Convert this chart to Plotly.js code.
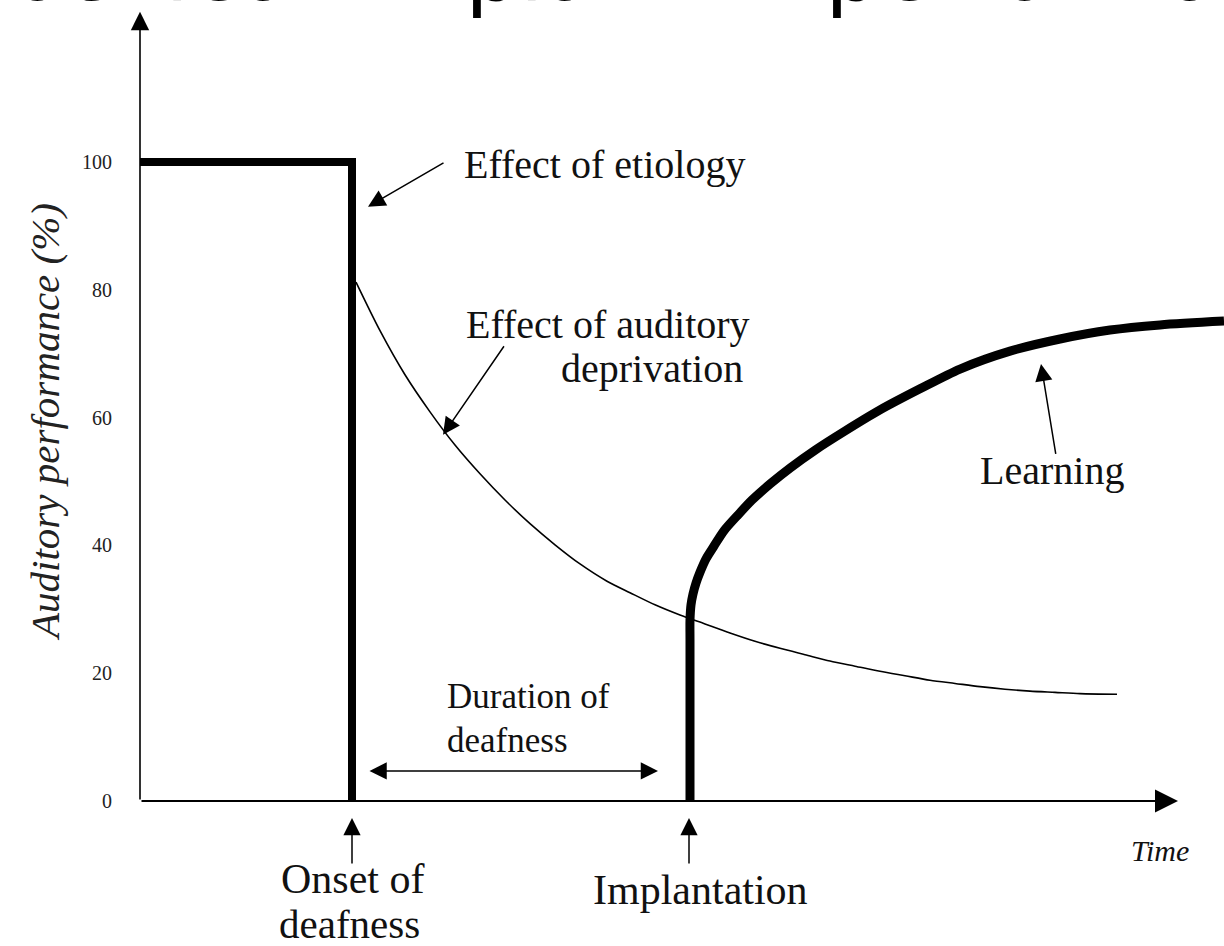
<!DOCTYPE html>
<html>
<head>
<meta charset="utf-8">
<script src="https://cdn.plot.ly/plotly-3.0.1.min.js"></script>
<style>html,body{margin:0;padding:0;background:#fff;}#chart{width:1224px;height:946px;}</style>
</head>
<body>
<div id="chart"></div>
<script>
// ---- data (time in arbitrary units, performance in %) ----
const yTicks = [0, 20, 40, 60, 80, 100];

const etiologyX = [0, 2.12, 2.12];
const etiologyY = [100, 100, 0];

const deprivationX = [2.16, 2.40, 2.65, 2.90, 3.15, 3.40, 3.65, 3.90, 4.15, 4.40, 4.67, 4.90, 5.15, 5.40, 5.65, 5.90, 6.15, 6.40, 6.65, 6.90, 7.15, 7.40, 7.65, 7.90, 8.15, 8.40, 8.65, 8.90, 9.15, 9.40, 9.77];
const deprivationY = [81.2, 73.6, 66.7, 60.9, 55.7, 51.2, 47.1, 43.4, 40.1, 37.1, 34.4, 32.6, 30.7, 29.1, 27.7, 26.3, 25.0, 23.9, 22.9, 21.9, 21.1, 20.3, 19.6, 18.9, 18.4, 17.9, 17.5, 17.2, 17.0, 16.8, 16.7];

const learningX = [5.50, 5.50, 5.50, 5.50, 5.50, 5.51, 5.53, 5.56, 5.60, 5.66, 5.74, 5.84, 5.97, 6.12, 6.30, 6.50, 6.75, 7.05, 7.40, 7.80, 8.20, 8.70, 9.20, 9.70, 10.20, 10.84];
const learningY = [0, 9.6, 18.9, 25.2, 28.3, 30.7, 32.4, 34.1, 35.8, 37.9, 39.9, 42.3, 44.6, 47.1, 49.6, 52.1, 54.9, 57.9, 61.2, 64.5, 67.6, 70.4, 72.3, 73.7, 74.5, 75.1];

const onsetTime = 2.12;
const implantTime = 5.50;

// ---- styling ----
const SERIF = 'Liberation Serif, Times New Roman, serif';
const INK = '#111';

const traces = [
  {x: etiologyX, y: etiologyY, mode: 'lines', line: {color: '#000', width: 8}, hoverinfo: 'skip'},
  {x: deprivationX, y: deprivationY, mode: 'lines', line: {color: '#000', width: 1.6, shape: 'spline', smoothing: 0.8}, hoverinfo: 'skip'},
  {x: learningX, y: learningY, mode: 'lines', line: {color: '#000', width: 9, shape: 'spline', smoothing: 0.8}, hoverinfo: 'skip'}
];

function label(text, x, y, size, xanchor, italic) {
  return {text: italic ? '<i>' + text + '</i>' : text, x: x, y: y, xref: 'x', yref: 'y',
          showarrow: false, xanchor: xanchor || 'center', yanchor: 'middle',
          font: {family: SERIF, size: size, color: INK}};
}
function arrow(x, y, ax, ay, opts) {
  return Object.assign({text: '', x: x, y: y, ax: ax, ay: ay, xref: 'x', yref: 'y', axref: 'x', ayref: 'y',
          showarrow: true, arrowhead: 2, arrowsize: 2.3, arrowwidth: 1.5, arrowcolor: '#000'}, opts || {});
}

const annotations = [
  // axes
  arrow(0, 123.5, 0, 0, {arrowwidth: 1.6}),
  arrow(10.38, 0, 0, 0, {arrowwidth: 2}),
  // y-axis title
  {text: '<i>Auditory performance (%)</i>', x: -0.0876, y: 0.554, xref: 'paper', yref: 'paper',
   textangle: -90, showarrow: false, xanchor: 'center', yanchor: 'middle',
   font: {family: SERIF, size: 41, color: '#222'}},
  // etiology
  label('Effect of etiology', 3.22, 99.6, 40, 'left'),
  arrow(2.28, 93.0, 3.05, 100.0),
  // deprivation
  label('Effect of auditory', 6.12, 74.6, 40, 'right'),
  label('deprivation', 6.05, 67.7, 40, 'right'),
  arrow(3.03, 57.3, 3.65, 71.4),
  // learning
  label('Learning', 9.12, 51.8, 40, 'center'),
  arrow(9.01, 68.4, 9.16, 54.1),
  // duration
  label('Duration of', 3.05, 16.3, 35, 'left'),
  label('deafness', 3.05, 9.5, 35, 'left'),
  arrow(5.18, 4.7, 2.28, 4.7, {arrowside: 'end+start'}),
  // onset / implantation
  arrow(onsetTime, -2.66, onsetTime, -10.0),
  label('Onset of', onsetTime, -12.2, 42, 'center'),
  label('deafness', 2.09, -19.2, 41, 'center'),
  arrow(implantTime - 0.01, -2.66, implantTime - 0.01, -10.0),
  label('Implantation', 5.60, -13.9, 42, 'center'),
  // time
  label('Time', 10.20, -7.7, 30, 'center', true)
];

const layout = {
  width: 1224, height: 946,
  margin: {l: 140, r: 0, t: 0, b: 0},
  paper_bgcolor: '#fff', plot_bgcolor: '#fff',
  showlegend: false,
  title: {
    text: 'Cochlear implant \u2014 performance',
    font: {family: 'DejaVu Sans', size: 86, color: '#000'},
    x: 0.542, xanchor: 'center', xref: 'container',
    y: 0.9958, yanchor: 'bottom', yref: 'container',
    pad: {b: 4}
  },
  xaxis: {range: [0, 10.84], showgrid: false, zeroline: false, showline: false,
          showticklabels: false, ticks: '', fixedrange: true},
  yaxis: {range: [-22.69, 125.35], tickvals: yTicks, ticks: '', showgrid: false, zeroline: false,
          showline: false, ticklabelstandoff: 27,
          tickfont: {family: SERIF, size: 20, color: '#222'},
          fixedrange: true},
  annotations: annotations
};

Plotly.newPlot('chart', traces, layout, {displayModeBar: false, staticPlot: true});
</script>
</body>
</html>
